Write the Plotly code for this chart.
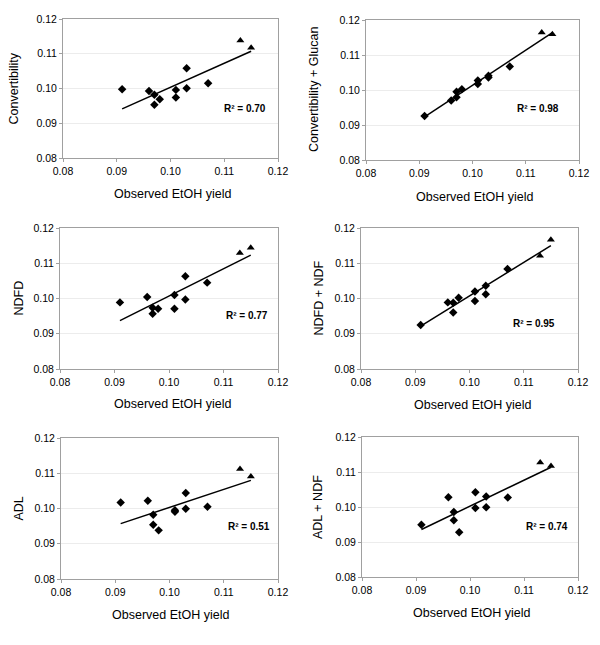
import numpy as np
import plotly.graph_objects as go

# Observed EtOH yield (shared x)
x_diamond = [0.091, 0.096, 0.097, 0.097, 0.098, 0.101, 0.101, 0.103, 0.103, 0.107]
x_triangle = [0.113, 0.115]

titles = ["Convertibility", "Convertibility + Glucan", "NDFD", "NDFD + NDF", "ADL", "ADL + NDF"]
x_title = "Observed EtOH yield"
r2_labels = ["0.70", "0.98", "0.77", "0.95", "0.51", "0.74"]

conv_d = [0.0998, 0.0993, 0.0982, 0.0953, 0.0969, 0.0996, 0.0974, 0.1058, 0.1001, 0.1015]
conv_t = [0.1138, 0.1117]
convg_d = [0.0926, 0.0970, 0.0995, 0.0979, 0.1002, 0.1027, 0.1017, 0.1041, 0.1036, 0.1067]
convg_t = [0.1164, 0.1159]
ndfd_d = [0.0989, 0.1004, 0.0974, 0.0957, 0.0971, 0.1010, 0.0971, 0.1063, 0.0997, 0.1045]
ndfd_t = [0.1129, 0.1144]
ndfdn_d = [0.0925, 0.0989, 0.0988, 0.0960, 0.1002, 0.1020, 0.0993, 0.1036, 0.1012, 0.1084]
ndfdn_t = [0.1121, 0.1167]
adl_d = [0.1017, 0.1022, 0.0982, 0.0954, 0.0938, 0.0995, 0.0991, 0.1044, 0.0999, 0.1005]
adl_t = [0.1112, 0.1091]
adln_d = [0.0949, 0.1028, 0.0986, 0.0962, 0.0928, 0.1042, 0.0997, 0.1030, 0.0999, 0.1027]
adln_t = [0.1127, 0.1117]

series_d = [conv_d, convg_d, ndfd_d, ndfdn_d, adl_d, adln_d]
series_t = [conv_t, convg_t, ndfd_t, ndfdn_t, adl_t, adln_t]

ticks = [0.08, 0.09, 0.10, 0.11, 0.12]
tick_text = ["0.08", "0.09", "0.10", "0.11", "0.12"]

# R2 label anchor positions in data coords
r2_pos = [(0.1138, 0.0943), (0.1123, 0.0948), (0.1143, 0.0951),
          (0.1118, 0.0930), (0.1146, 0.0949), (0.1143, 0.0944)]

# layout (pixels)
W, H = 600, 645
boxes = [(63, 278, 19, 158), (366, 579, 20, 160),
         (60, 278, 228, 369), (361, 578, 228, 369),
         (61, 278, 438, 579), (362, 578, 437, 577)]
ytitle_x = [14, 314, 18, 318, 18, 318]
xtitle_pos = [(172, 194), (474, 197), (172, 404), (472, 405), (171, 615), (471, 613)]

fig = go.Figure()
font = "Liberation Sans, Arial, sans-serif"

for i in range(6):
    n = "" if i == 0 else str(i + 1)
    xa, ya = "x" + n, "y" + n
    xd = x_diamond
    yd = series_d[i]
    xt = x_triangle
    yt = series_t[i]
    allx = np.array(xd + xt)
    ally = np.array(yd + yt)
    slope, icpt = np.polyfit(allx, ally, 1)
    xl = np.array([min(allx), max(allx)])
    fig.add_trace(go.Scatter(x=xl, y=slope * xl + icpt, mode="lines",
                             line=dict(color="black", width=1.5),
                             xaxis=xa, yaxis=ya, showlegend=False, hoverinfo="skip"))
    fig.add_trace(go.Scatter(x=xd, y=yd, mode="markers",
                             marker=dict(symbol="diamond", size=6.5, color="black"),
                             xaxis=xa, yaxis=ya, showlegend=False))
    fig.add_trace(go.Scatter(x=xt, y=yt, mode="markers",
                             marker=dict(symbol="triangle-up", size=7, color="black"),
                             xaxis=xa, yaxis=ya, showlegend=False))
    l, r, t, b = boxes[i]
    axis_common = dict(range=[0.08, 0.12], tickvals=ticks, ticktext=tick_text,
                       showline=True, linecolor="#a0a0a0", linewidth=1, mirror=True,
                       ticks="outside", ticklen=3, tickcolor="#a0a0a0",
                       tickfont=dict(family=font, size=10.5, color="black"),
                       zeroline=False, automargin=False)
    fig.update_layout(**{
        ("xaxis" + n): dict(domain=[l / W, r / W], anchor=ya, showgrid=False,
                            **axis_common),
        ("yaxis" + n): dict(domain=[1 - b / H, 1 - t / H], anchor=xa, showgrid=True,
                            gridcolor="#ececec", **axis_common),
    })
    fig.add_annotation(x=r2_pos[i][0], y=r2_pos[i][1], xref=xa, yref=ya,
                       text="R² = " + r2_labels[i],
                       showarrow=False,
                       font=dict(family=font, size=10, color="black", weight="bold"))
    # axis titles
    fig.add_annotation(x=ytitle_x[i] / W, y=1 - (t + b) / 2 / H, xref="paper", yref="paper",
                       text=titles[i], textangle=-90, showarrow=False,
                       xanchor="center", yanchor="middle",
                       font=dict(family=font, size=12.5, color="black"))
    fig.add_annotation(x=xtitle_pos[i][0] / W, y=1 - xtitle_pos[i][1] / H,
                       xref="paper", yref="paper", text=x_title, showarrow=False,
                       xanchor="center", yanchor="middle",
                       font=dict(family=font, size=12.5, color="black"))

fig.update_layout(width=W, height=H, margin=dict(l=0, r=0, t=0, b=0),
                  plot_bgcolor="white", paper_bgcolor="white")
fig.write_html("out.html", config={"displayModeBar": False},
               post_script="document.body.style.margin='0';document.body.style.overflow='hidden';")
